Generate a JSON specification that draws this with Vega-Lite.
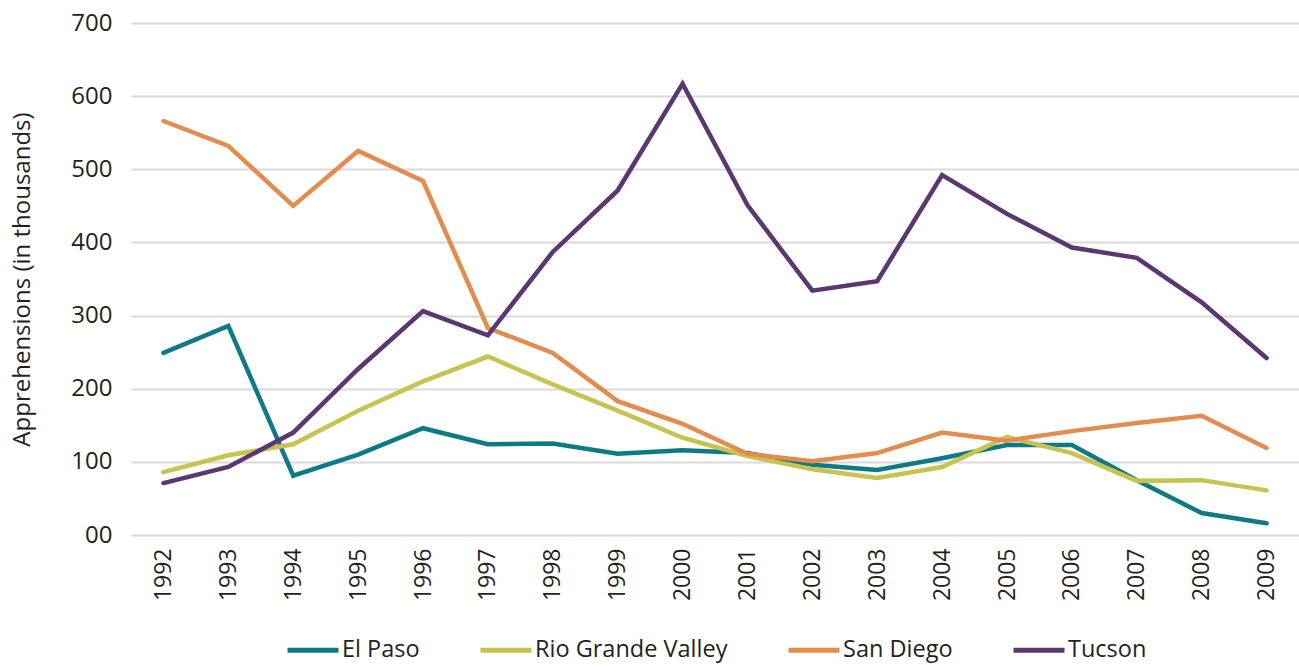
{
  "$schema": "https://vega.github.io/schema/vega-lite/v6.json",
  "width": 1168,
  "height": 512,
  "autosize": {"type": "none"},
  "padding": {"left": 131, "top": 23, "right": 0, "bottom": 130},
  "background": "white",
  "config": {
    "font": "Open Sans",
    "view": {"stroke": null},
    "axis": {"labelFont": "Open Sans", "titleFont": "Open Sans", "labelColor": "#231f20", "titleColor": "#231f20"}
  },
  "data": {
    "values": [
      {"year": "1992", "region": "El Paso", "value": 249},
      {"year": "1993", "region": "El Paso", "value": 286},
      {"year": "1994", "region": "El Paso", "value": 81},
      {"year": "1995", "region": "El Paso", "value": 110},
      {"year": "1996", "region": "El Paso", "value": 146},
      {"year": "1997", "region": "El Paso", "value": 124},
      {"year": "1998", "region": "El Paso", "value": 125},
      {"year": "1999", "region": "El Paso", "value": 111},
      {"year": "2000", "region": "El Paso", "value": 116},
      {"year": "2001", "region": "El Paso", "value": 112},
      {"year": "2002", "region": "El Paso", "value": 96},
      {"year": "2003", "region": "El Paso", "value": 89},
      {"year": "2004", "region": "El Paso", "value": 105},
      {"year": "2005", "region": "El Paso", "value": 123},
      {"year": "2006", "region": "El Paso", "value": 123},
      {"year": "2007", "region": "El Paso", "value": 75},
      {"year": "2008", "region": "El Paso", "value": 30},
      {"year": "2009", "region": "El Paso", "value": 16},
      {"year": "1992", "region": "Rio Grande Valley", "value": 86},
      {"year": "1993", "region": "Rio Grande Valley", "value": 109},
      {"year": "1994", "region": "Rio Grande Valley", "value": 124},
      {"year": "1995", "region": "Rio Grande Valley", "value": 170},
      {"year": "1996", "region": "Rio Grande Valley", "value": 210},
      {"year": "1997", "region": "Rio Grande Valley", "value": 244},
      {"year": "1998", "region": "Rio Grande Valley", "value": 206},
      {"year": "1999", "region": "Rio Grande Valley", "value": 170},
      {"year": "2000", "region": "Rio Grande Valley", "value": 133},
      {"year": "2001", "region": "Rio Grande Valley", "value": 108},
      {"year": "2002", "region": "Rio Grande Valley", "value": 90},
      {"year": "2003", "region": "Rio Grande Valley", "value": 78},
      {"year": "2004", "region": "Rio Grande Valley", "value": 93},
      {"year": "2005", "region": "Rio Grande Valley", "value": 134},
      {"year": "2006", "region": "Rio Grande Valley", "value": 112},
      {"year": "2007", "region": "Rio Grande Valley", "value": 74},
      {"year": "2008", "region": "Rio Grande Valley", "value": 75},
      {"year": "2009", "region": "Rio Grande Valley", "value": 61},
      {"year": "1992", "region": "San Diego", "value": 566},
      {"year": "1993", "region": "San Diego", "value": 532},
      {"year": "1994", "region": "San Diego", "value": 450},
      {"year": "1995", "region": "San Diego", "value": 525},
      {"year": "1996", "region": "San Diego", "value": 484},
      {"year": "1997", "region": "San Diego", "value": 283},
      {"year": "1998", "region": "San Diego", "value": 249},
      {"year": "1999", "region": "San Diego", "value": 183},
      {"year": "2000", "region": "San Diego", "value": 152},
      {"year": "2001", "region": "San Diego", "value": 111},
      {"year": "2002", "region": "San Diego", "value": 101},
      {"year": "2003", "region": "San Diego", "value": 112},
      {"year": "2004", "region": "San Diego", "value": 140},
      {"year": "2005", "region": "San Diego", "value": 129},
      {"year": "2006", "region": "San Diego", "value": 142},
      {"year": "2007", "region": "San Diego", "value": 153},
      {"year": "2008", "region": "San Diego", "value": 163},
      {"year": "2009", "region": "San Diego", "value": 119},
      {"year": "1992", "region": "Tucson", "value": 71},
      {"year": "1993", "region": "Tucson", "value": 93},
      {"year": "1994", "region": "Tucson", "value": 140},
      {"year": "1995", "region": "Tucson", "value": 227},
      {"year": "1996", "region": "Tucson", "value": 306},
      {"year": "1997", "region": "Tucson", "value": 273},
      {"year": "1998", "region": "Tucson", "value": 387},
      {"year": "1999", "region": "Tucson", "value": 471},
      {"year": "2000", "region": "Tucson", "value": 617},
      {"year": "2001", "region": "Tucson", "value": 451},
      {"year": "2002", "region": "Tucson", "value": 334},
      {"year": "2003", "region": "Tucson", "value": 347},
      {"year": "2004", "region": "Tucson", "value": 492},
      {"year": "2005", "region": "Tucson", "value": 439},
      {"year": "2006", "region": "Tucson", "value": 393},
      {"year": "2007", "region": "Tucson", "value": 379},
      {"year": "2008", "region": "Tucson", "value": 318},
      {"year": "2009", "region": "Tucson", "value": 242}
    ]
  },
  "mark": {"type": "line", "strokeWidth": 4.5, "strokeCap": "round", "strokeJoin": "miter"},
  "encoding": {
    "x": {
      "field": "year", "type": "ordinal",
      "scale": {"type": "point", "padding": 0.5},
      "axis": {
        "title": null, "labelAngle": -90, "labelFontSize": 23, "labelPadding": 13,
        "ticks": false, "domain": false, "grid": false, "labelBaseline": "middle", "labelAlign": "right"
      }
    },
    "y": {
      "field": "value", "type": "quantitative",
      "scale": {"domain": [0, 700], "nice": false},
      "axis": {
        "title": "Apprehensions (in thousands)", "titleFontSize": 24, "titleFontWeight": "normal", "titlePadding": 36,
        "values": [0, 100, 200, 300, 400, 500, 600, 700],
        "labelExpr": "datum.value == 0 ? '00' : datum.label",
        "labelFontSize": 24, "labelPadding": 19,
        "ticks": false, "domain": false, "grid": true, "gridColor": "#d9d9d9", "gridWidth": 2
      }
    },
    "color": {
      "field": "region", "type": "nominal",
      "scale": {
        "domain": ["El Paso", "Rio Grande Valley", "San Diego", "Tucson"],
        "range": ["#0e7a86", "#c8c350", "#e38c4f", "#5c3670"]
      },
      "legend": {
        "title": null, "orient": "none", "legendX": 154, "legendY": 599, "direction": "horizontal",
        "symbolType": "stroke", "symbolStrokeWidth": 5, "symbolSize": 2600,
        "labelFontSize": 23.5, "labelFont": "Open Sans", "labelColor": "#231f20", "labelLimit": 400,
        "columnPadding": 50, "labelOffset": 1, "padding": 0
      }
    }
  }
}
